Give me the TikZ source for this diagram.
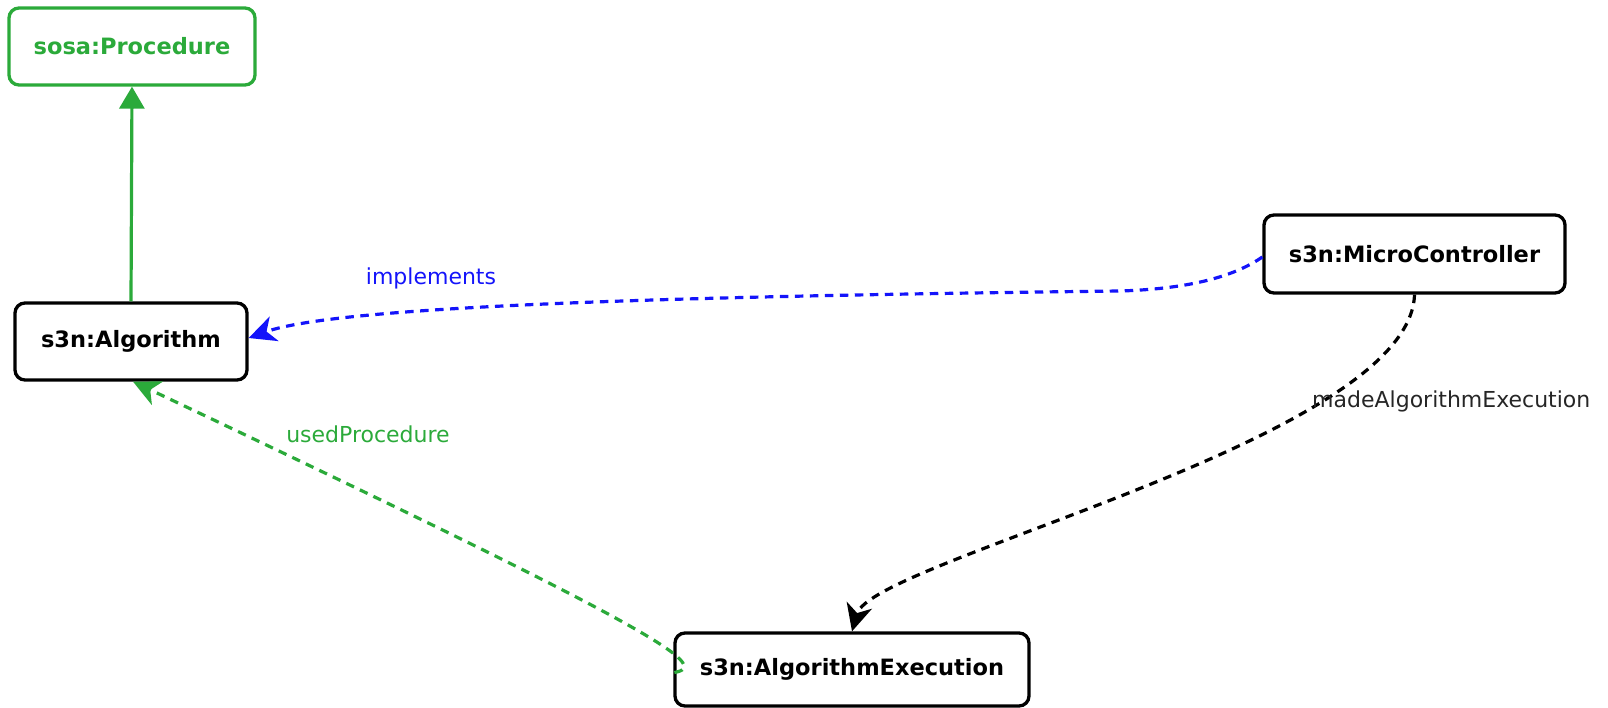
\documentclass[tikz,border=0pt]{standalone}
\usepackage{fontspec}
\setmainfont{DejaVu Sans}
\usetikzlibrary{arrows.meta}
\definecolor{relgreen}{RGB}{43,170,58}
\definecolor{relblue}{RGB}{20,20,250}
\tikzset{
  classbox/.style={draw=black, line width=3.3pt, rounded corners=10pt, fill=white,
    align=center, font=\fontsize{22.5}{27}\selectfont\bfseries, inner sep=0pt},
  superbox/.style={classbox, draw=relgreen, text=relgreen},
  rel/.style={line width=3.2pt, dash pattern=on 8.5pt off 6.5pt},
  rellabel/.style={font=\fontsize{22}{26}\selectfont, inner sep=0pt},
  tip/.style={-{Stealth[length=27pt,width=26pt,inset=8pt]}},
}
\begin{document}
\begin{tikzpicture}[x=1pt,y=-1pt]
\path[use as bounding box] (0,0) rectangle (1608,708);

% classes
\node[superbox, minimum width=246pt, minimum height=77pt] (proc) at (132,46.5) {sosa:Procedure};
\node[classbox, minimum width=232pt, minimum height=77pt] (alg) at (131,341.5) {s3n:Algorithm};
\node[classbox, minimum width=301pt, minimum height=78pt] (mc) at (1414.5,254) {s3n:MicroController};
\node[classbox, minimum width=354pt, minimum height=73pt] (exec) at (852,669.5) {s3n:AlgorithmExecution};

% subclass link
\draw[relgreen, line width=3.2pt, -{Triangle[length=22pt,width=25pt]}] (alg.north) -- (proc.south);

% implements
\draw[rel, relblue, tip] ([yshift=-3pt]mc.west)
  .. controls (1232,278) and (1185,289) .. (1120,291)
  .. controls (700,296) and (340,305) .. ([yshift=3.5pt]alg.east);
\node[rellabel, text=relblue, anchor=base] (implLbl) at (431,285) {implements};

% madeAlgorithmExecution
\draw[rel, black, tip] (mc.south)
  .. controls (1410,440) and (872,560) .. (exec.north);
\node[rellabel, text=black!85, anchor=base west] (madeLbl) at (1312,407) {madeAlgorithmExecution};

% usedProcedure
\draw[rel, relgreen, tip] ([shift={(1pt,-3pt)}]exec.west)
  .. controls (712,666) and (662,632) .. ([xshift=2pt]alg.south);
\node[rellabel, text=relgreen, anchor=base] (usedLbl) at (368,442) {usedProcedure};
\end{tikzpicture}
\end{document}
